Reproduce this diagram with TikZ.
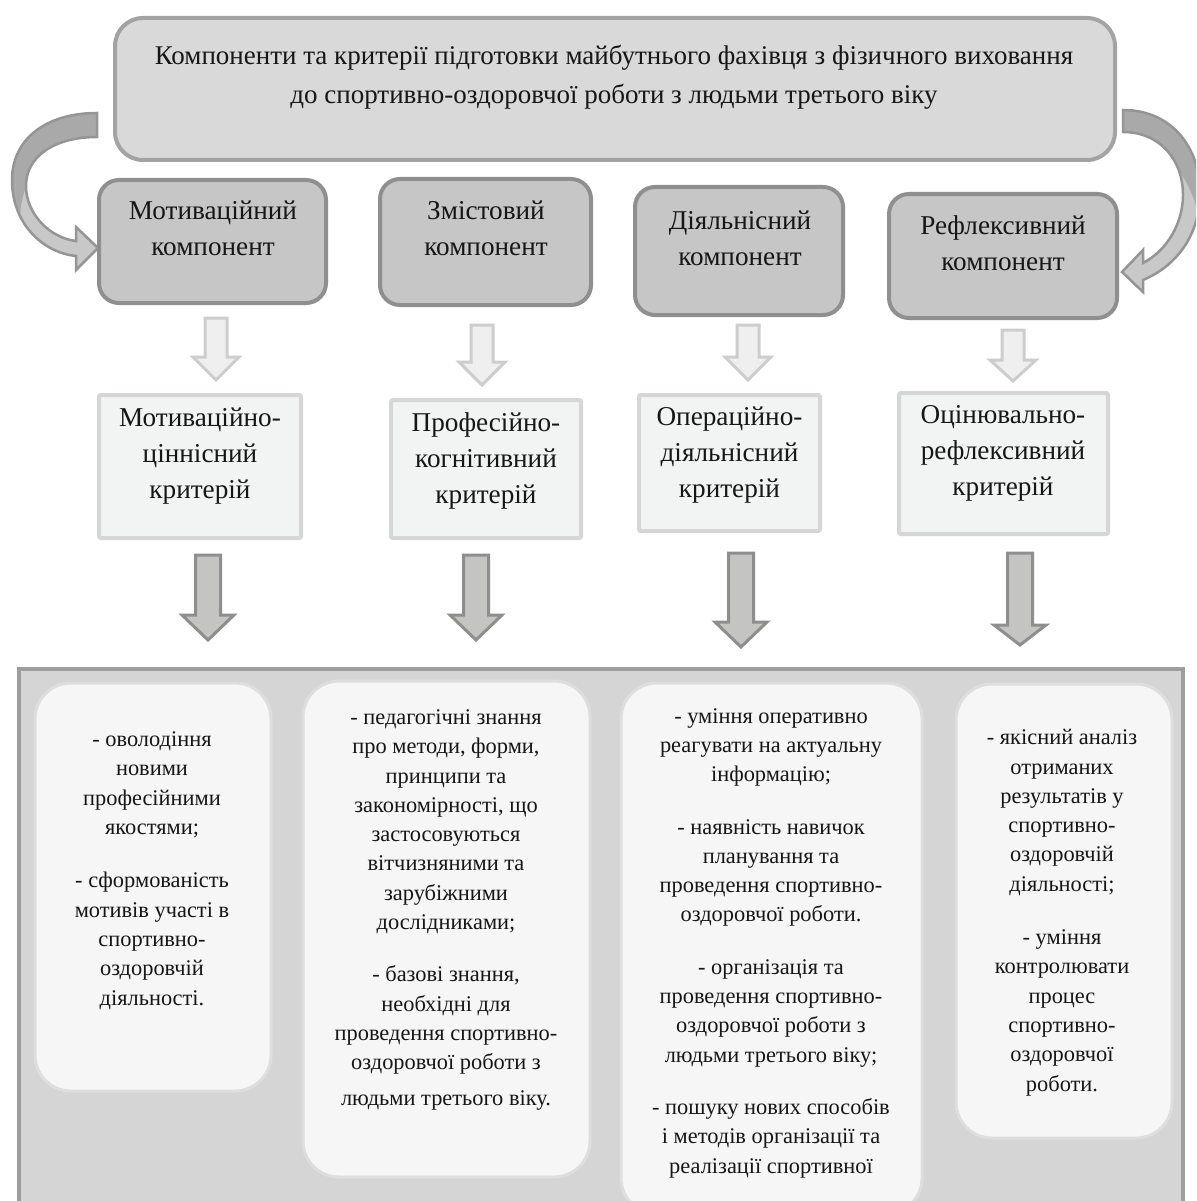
\documentclass[tikz,border=0pt]{standalone}
\usepackage{fontspec}
\setmainfont{Liberation Serif}
\newfontfamily\diagfont{Liberation Serif}
\usetikzlibrary{calc}
\definecolor{gtitle}{HTML}{D9D9D9}
\definecolor{gtitleB}{HTML}{A3A3A3}
\definecolor{gcomp}{HTML}{C6C6C6}
\definecolor{gcompB}{HTML}{8F8F8F}
\definecolor{gcrit}{HTML}{F2F3F3}
\definecolor{gcritB}{HTML}{D6D6D6}
\definecolor{gsmall}{HTML}{EFEFEF}
\definecolor{gsmallB}{HTML}{CDCDCD}
\definecolor{gbigA}{HTML}{C4C4C2}
\definecolor{gbigAB}{HTML}{8E8E8E}
\definecolor{gbig}{HTML}{D5D5D5}
\definecolor{gbigB}{HTML}{9E9E9E}
\definecolor{gitem}{HTML}{F6F6F6}
\definecolor{gitemB}{HTML}{DEDEDE}
\definecolor{gcurve}{HTML}{C8C8C8}
\definecolor{gcurveD}{HTML}{A9A9A9}
\definecolor{gcurveB}{HTML}{959595}
\definecolor{txt}{HTML}{161616}
\tikzset{
  every node/.style={inner sep=0pt, outer sep=0pt},
  titlebox/.style={draw=gtitleB, fill=gtitle, line width=4pt, rounded corners=28pt},
  compbox/.style={draw=gcompB, fill=gcomp, line width=4pt, rounded corners=20pt},
  critbox/.style={draw=gcritB, fill=gcrit, line width=4pt, rounded corners=2pt},
  bigbox/.style={draw=gbigB, fill=gbig, line width=4pt},
  itembox/.style={draw=gitemB, fill=gitem, line width=3pt, rounded corners=36pt},
  smallarrow/.style={draw=gsmallB, fill=gsmall, line width=3pt, line join=miter},
  bigarrow/.style={draw=gbigAB, fill=gbigA, line width=3pt, line join=miter},
  curvearrow/.style={draw=gcurveB, line width=2.5pt, line join=miter},
  headtxt/.style={text=txt, align=center, font=\diagfont\fontsize{27}{39}\selectfont, text height=18.5pt, text depth=6.4pt},
  boxtxt/.style={text=txt, align=center, font=\diagfont\fontsize{27.2}{36}\selectfont, text height=18.5pt, text depth=6.4pt},
  itemtxt/.style={text=txt, align=center, font=\diagfont\fontsize{22.4}{29.3}\selectfont, text height=15pt, text depth=5pt},
}
% block arrow pointing down: #1 name, #2 x centre, #3 top y, #4 head start y, #5 tip y, #6 shaft half, #7 head half, #8 style
\newcommand{\blockdown}[8]{%
  \coordinate (#1) at (#2,#3);
  \draw[#8] ($(#1)+(-#6,0)$) -- ($(#1)+(#6,0)$) -- ($(#1)+(#6,#4-#3)$) -- ($(#1)+(#7,#4-#3)$)
    -- ($(#1)+(0,#5-#3)$) -- ($(#1)+(-#7,#4-#3)$) -- ($(#1)+(-#6,#4-#3)$) -- cycle;}
\newcommand{\leftcurvepath}{(97,113) .. controls (45,113) and (11,140) .. (12,182)
  .. controls (13,226) and (45,253) .. (76,256)
  -- (76,270) -- (98,248) -- (76,227) -- (76,241)
  .. controls (50,238) and (26,214) .. (26,186)
  .. controls (26,156) and (55,137) .. (97,137) -- cycle}
\newcommand{\rightcurvepath}{(1123,110) .. controls (1172,110) and (1200,148) .. (1200,192)
  .. controls (1200,236) and (1176,266) .. (1143,280)
  -- (1143,292) -- (1122,272) -- (1143,250) -- (1143,263)
  .. controls (1168,250) and (1183,222) .. (1183,195)
  .. controls (1183,160) and (1160,132) .. (1123,132) -- cycle}
\begin{document}
\begin{tikzpicture}[x=1pt,y=-1pt]
\useasboundingbox (0,0) rectangle (1196,1201);
\clip (0,0) rectangle (1196,1201);
\fill[white] (0,0) rectangle (1196,1201);

% title
\node[titlebox, minimum width=1000pt, minimum height=142pt] (title) at (615,89) {};
\node[headtxt] (titlet) at (614,97) {Компоненти та критерії підготовки майбутнього фахівця з фізичного виховання\\до спортивно-оздоровчої роботи з людьми третього віку};

% curved arrows (two-tone ribbon)
\begin{scope}
  \clip \leftcurvepath;
  \fill[gcurve] (0,100) rectangle (110,290);
  \fill[gcurveD] (100,105) -- (97,105) .. controls (40,105) and (0,135) .. (4,185)
    -- (20,218) .. controls (21,185) and (38,152) .. (70,141) -- (100,137) -- cycle;
\end{scope}
\draw[curvearrow] \leftcurvepath;
\begin{scope}
  \clip \rightcurvepath;
  \fill[gcurve] (1110,100) rectangle (1210,300);
  \fill[gcurveD] (1120,100) -- (1123,100) .. controls (1180,100) and (1210,148) .. (1210,192)
    -- (1200,222) .. controls (1192,178) and (1165,142) .. (1123,137) -- (1120,137) -- cycle;
\end{scope}
\draw[curvearrow] \rightcurvepath;

% components
\node[compbox, minimum width=227pt, minimum height=123pt] (c1) at (212.5,241.5) {};
\node[compbox, minimum width=211pt, minimum height=126pt] (c2) at (485.5,242) {};
\node[compbox, minimum width=208pt, minimum height=128pt] (c3) at (739,251) {};
\node[compbox, minimum width=228pt, minimum height=124pt] (c4) at (1003,256) {};
\node[boxtxt] (c1t) at (213,249) {Мотиваційний\\компонент};
\node[boxtxt] (c2t) at (486,249) {Змістовий\\компонент};
\node[boxtxt] (c3t) at (740,259) {Діяльнісний\\компонент};
\node[boxtxt] (c4t) at (1003,264) {Рефлексивний\\компонент};

% small arrows
\blockdown{sa1}{216}{318}{357}{380}{11}{23}{smallarrow}
\blockdown{sa2}{482}{325}{362}{385}{11}{23}{smallarrow}
\blockdown{sa3}{748}{325}{357}{380}{11}{23}{smallarrow}
\blockdown{sa4}{1013}{330}{360}{381}{11}{23}{smallarrow}

% criteria
\node[critbox, minimum width=202pt, minimum height=143pt] (k1) at (200,466.5) {};
\node[critbox, minimum width=190pt, minimum height=138pt] (k2) at (486,469) {};
\node[critbox, minimum width=181pt, minimum height=136pt] (k3) at (729.5,463) {};
\node[critbox, minimum width=209pt, minimum height=141pt] (k4) at (1003.5,463.5) {};
\node[boxtxt] (k1t) at (200,492) {Мотиваційно-\\ціннісний\\критерій};
\node[boxtxt] (k2t) at (486,497) {Професійно-\\когнітивний\\критерій};
\node[boxtxt] (k3t) at (729.5,491) {Операційно-\\діяльнісний\\критерій};
\node[boxtxt] (k4t) at (1003,489) {Оцінювально-\\рефлексивний\\критерій};

% big arrows
\blockdown{ba1}{208}{555}{615}{640}{12.5}{26}{bigarrow}
\blockdown{ba2}{476}{555}{615}{640}{12.5}{26}{bigarrow}
\blockdown{ba3}{741}{553}{622}{647}{12.5}{26}{bigarrow}
\blockdown{ba4}{1020}{553}{625}{645}{12.5}{26}{bigarrow}

% bottom panel
\node[bigbox, minimum width=1164pt, minimum height=580pt] (panel) at (601,959) {};
\node[itembox, minimum width=236pt, minimum height=408pt] (i1) at (153,887) {};
\node[itembox, minimum width=287pt, minimum height=496pt] (i2) at (446.5,929) {};
\node[itembox, minimum width=301pt, minimum height=531pt] (i3) at (771.5,948.5) {};
\node[itembox, minimum width=216pt, minimum height=454pt] (i4) at (1064,911) {};

\node[itemtxt] (i1t) at (152,1000) {- оволодіння\\новими\\професійними\\якостями;\\[24pt]- сформованість\\мотивів участі в\\спортивно-\\оздоровчій\\діяльності.};
\node[itemtxt] (i2t) at (446,1100) {- педагогічні знання\\про методи, форми,\\принципи та\\закономірності, що\\застосовуються\\вітчизняними та\\зарубіжними\\дослідниками;\\[23pt]- базові знання,\\необхідні для\\проведення спортивно-\\оздоровчої роботи з\\[6pt]людьми третього віку.};
\node[itemtxt] (i3t) at (771,1168) {- уміння оперативно\\реагувати на актуальну\\інформацію;\\[23pt]- наявність навичок\\планування та\\проведення спортивно-\\оздоровчої роботи.\\[23pt]- організація та\\проведення спортивно-\\оздоровчої роботи з\\людьми третього віку;\\[23pt]- пошуку нових способів\\і методів організації та\\реалізації спортивної};
\node[itemtxt] (i4t) at (1062,1086) {- якісний аналіз\\отриманих\\результатів у\\спортивно-\\оздоровчій\\діяльності;\\[24pt]- уміння\\контролювати\\процес\\спортивно-\\оздоровчої\\роботи.};
\end{tikzpicture}
\end{document}
